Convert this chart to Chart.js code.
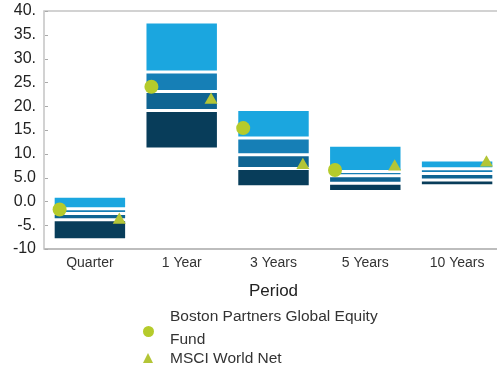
<!DOCTYPE html>
<html>
<head>
<meta charset="utf-8">
<script src="https://cdn.jsdelivr.net/npm/chart.js@4/dist/chart.umd.min.js"></script>
<style>
  body { margin: 0; overflow: hidden; background: #fff; font-family: "Liberation Sans", Arial, sans-serif; }
  #clip { position: relative; width: 497px; height: 374px; overflow: hidden; }
  #wrap { position: relative; width: 504px; height: 374px; }
  .legend-item { position: absolute; left: 170px; color: #333; font-size: 15.5px; line-height: 23px; }
  .dot { position: absolute; left: 143px; top: 326px; width: 11px; height: 11px; border-radius: 50%; background: #b5cb2b; }
  .tri { position: absolute; left: 143px; top: 353px; width: 0; height: 0;
         border-left: 5.5px solid transparent; border-right: 5.5px solid transparent; border-bottom: 10px solid #b3c536; }
</style>
</head>
<body>
<div id="clip">
<div id="wrap">
  <canvas id="myChart" width="504" height="374"></canvas>
  <span class="dot"></span>
  <div class="legend-item" style="top:304px">Boston Partners Global Equity<br>Fund</div>
  <span class="tri"></span>
  <div class="legend-item" style="top:346px">MSCI World Net</div>
</div>
</div>
<script>
var periods = ['Quarter', '1 Year', '3 Years', '5 Years', '10 Years'];

// peer group percentiles (top to bottom of each box)
var pct5   = [1.1, 37.7, 19.3, 11.8, 8.7];
var pct25  = [-1.55, 27.2, 13.3, 6.3, 6.85];
var median = [-2.55, 23.1, 9.8, 5.4, 5.85];
var pct75  = [-3.85, 19.1, 6.9, 3.8, 4.5];
var pct95  = [-8.05, 11.0, 3.1, 2.1, 3.3];

var fundReturns  = [-1.7, 24.1, 15.4, 6.6, null];
var indexReturns = [-3.9, 21.3, 7.6, 7.3, 8.1];

var yTickLabels = ['-10', '-5.', '0.0', '5.0', '10.', '15.', '20.', '25.', '30.', '35.', '40.'];

var fundName = 'Boston Partners Global Equity Fund';
var indexName = 'MSCI World Net';

var fontFamily = '"Liberation Sans", Arial, sans-serif';

function ranges(lowArr, highArr) {
	return lowArr.map(function(v, i) { return [v, highArr[i]]; });
}

function points(values, shift) {
	var out = [];
	values.forEach(function(v, i) {
		if (v !== null) out.push({ x: i + shift, y: v });
	});
	return out;
}

function barSet(label, data, color) {
	return {
		type: 'bar',
		label: label,
		data: data,
		backgroundColor: color,
		borderColor: '#ffffff',
		borderWidth: 1.5,
		borderSkipped: false,
		grouped: false,
		categoryPercentage: 1,
		barPercentage: 0.8,
		order: 1
	};
}

// frame around the plot area plus small inner tick marks
var framePlugin = {
	id: 'frame',
	beforeDatasetsDraw: function(chart) {
		var a = chart.chartArea;
		var ctx = chart.ctx;
		ctx.save();
		ctx.strokeStyle = '#c3c3c3';
		ctx.lineWidth = 1.5;
		ctx.strokeRect(a.left, a.top, a.right - a.left, a.bottom - a.top);
		ctx.lineWidth = 2;
		ctx.strokeStyle = '#bdbdbd';
		ctx.beginPath();
		ctx.moveTo(a.left, a.bottom);
		ctx.lineTo(a.right, a.bottom);
		ctx.stroke();
		var y = chart.scales.y;
		ctx.lineWidth = 1;
		ctx.strokeStyle = '#aaaaaa';
		y.ticks.forEach(function(t, i) {
			var py = Math.round(y.getPixelForTick(i)) + 0.5;
			ctx.beginPath();
			ctx.moveTo(a.left + 1, py);
			ctx.lineTo(a.left + 4, py);
			ctx.stroke();
		});
		ctx.restore();
	}
};

var ctx = document.getElementById('myChart').getContext('2d');
var chart = new Chart(ctx, {
	data: {
		labels: periods,
		datasets: [
			barSet('5th-25th', ranges(pct25, pct5), '#1ba6df'),
			barSet('25th-Median', ranges(median, pct25), '#167fb6'),
			barSet('Median-75th', ranges(pct75, median), '#0f6492'),
			barSet('75th-95th', ranges(pct95, pct75), '#083d5a'),
			{
				type: 'scatter',
				label: fundName,
				data: points(fundReturns, -0.33),
				xAxisID: 'x2',
				pointStyle: 'circle',
				pointRadius: 7,
				backgroundColor: '#b5cb2b',
				borderWidth: 0,
				order: 0
			},
			{
				type: 'scatter',
				label: indexName,
				data: points(indexReturns, 0.32),
				xAxisID: 'x2',
				pointStyle: 'triangle',
				pointRadius: 7.5,
				backgroundColor: '#b3c536',
				borderWidth: 0,
				order: 0
			}
		]
	},
	options: {
		responsive: false,
		animation: false,
		layout: { autoPadding: false, padding: { top: 11, right: 1, bottom: 70, left: 0 } },
		plugins: {
			legend: { display: false },
			tooltip: { enabled: false }
		},
		scales: {
			x: {
				type: 'category',
				offset: true,
				grid: { display: false, drawTicks: false },
				border: { display: false },
				ticks: { color: '#333', padding: 6, font: { family: fontFamily, size: 14 } },
				title: { display: true, text: 'Period', color: '#222', padding: { top: 0, bottom: 2 }, font: { family: fontFamily, size: 17 } },
				afterFit: function(scale) {
					scale.height = 55;
					scale.paddingLeft = 0;
					scale.paddingRight = 0;
				}
			},
			x2: {
				type: 'linear',
				display: false,
				min: -0.5,
				max: 4.5
			},
			y: {
				min: -10,
				max: 40,
				grid: { display: false, drawTicks: false },
				border: { display: false },
				ticks: {
					stepSize: 5,
					color: '#222',
					padding: 8,
					font: { family: fontFamily, size: 16 },
					callback: function(v, i) { return yTickLabels[i]; }
				},
				afterFit: function(scale) {
					scale.width = 44;
					scale.paddingTop = 0;
					scale.paddingBottom = 0;
				}
			}
		}
	},
	plugins: [framePlugin]
});
</script>
</body>
</html>
